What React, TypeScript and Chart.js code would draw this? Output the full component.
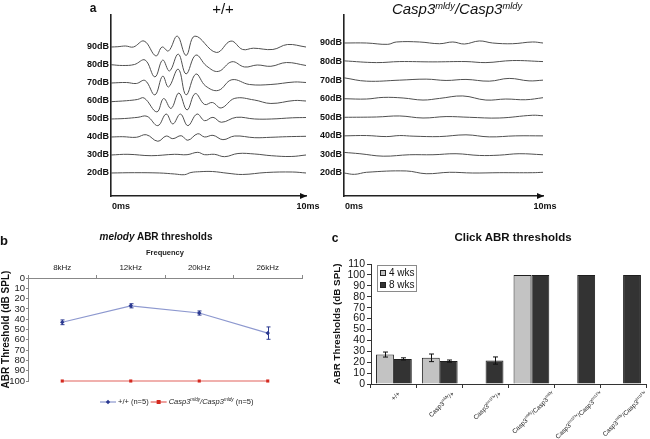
import React, { useEffect, useRef } from 'react';
import { Chart, registerables } from 'chart.js';

Chart.register(...registerables);

const FONT = '"Liberation Sans", Arial, Helvetica, sans-serif';

// ---------------- Panel a: ABR waveforms ----------------
const levelsDb = [90, 80, 70, 60, 50, 40, 30, 20];
const timeTicksMs = [0, 10];

// [time (ms), amplitude]
const wt90 = [[0, 0], [0.35, 0.3], [0.75, 1], [1.15, 0], [1.7, 6], [2.3, -9], [2.62, 0], [2.95, -4], [3.4, 11], [3.85, -8.5], [4.3, 11], [5.4, -5.5], [6.15, 6], [6.75, -2.5], [7.3, -1.2], [8.3, -2.5], [9.05, 2.5], [10, 0]];
const wt80 = [[0, 0.3], [0.6, -0.5], [1.2, 0.5], [1.75, 5], [2.25, -12], [2.65, 5], [3.0, -6], [3.45, 11], [3.85, -9], [4.35, 10], [4.9, -1], [5.5, -6.5], [6.2, 3.3], [6.85, -2], [7.5, 0], [8.2, -1.3], [9.0, 2.5], [10, -0.5]];
const wt70 = [[0, 0], [0.8, 0.5], [1.3, -0.5], [1.75, 2.5], [2.25, -12], [2.65, 7], [2.95, -4], [3.45, 14], [3.85, -12], [4.35, 9], [4.85, -3], [5.5, -7.5], [6.2, 3.3], [7.1, -1.5], [8.2, -1.5], [9.4, 1], [10, 0.5]];
const wt60 = [[0, -0.7], [0.8, 0.3], [1.35, 1.5], [1.7, 3], [2.35, -11], [2.7, 2.5], [3.08, -7.5], [3.48, 8], [3.9, -9], [4.32, 7.5], [4.8, -3.5], [5.2, -1.5], [5.65, -7], [6.35, 2.7], [7.35, 1], [8.2, -2.5], [9.4, 0.5], [10, 0]];
const wt50 = [[0, 0], [0.7, 0.5], [1.38, 1.7], [1.85, 2.7], [2.4, -6.7], [2.83, 5], [3.17, -5], [3.56, 5], [3.94, -6.7], [4.41, 5], [4.8, -1.7], [5.23, 1.7], [5.66, -3.3], [6.43, 1.7], [7.37, 0], [8.22, 0], [9.3, 1.2], [10, 1.5]];
const wt40 = [[0, 0], [0.6, 0.3], [1.3, -0.3], [1.81, 2.3], [2.4, -4.3], [2.83, 1], [3.17, -1.7], [3.6, 1.3], [3.94, -3.3], [4.45, 3.3], [4.8, 0], [5.23, 1.7], [5.74, -2.7], [6.34, 1], [7.37, -0.7], [8.2, -0.3], [9.0, 0.3], [10, 0.7]];
const wt30 = [[0, 0], [0.87, 0.7], [2.06, -0.7], [3.26, 0.7], [3.9, 0.3], [4.45, 2.7], [4.8, 0.3], [5.3, 0.7], [5.83, -1.7], [6.51, 1.5], [7.37, 1], [8.22, -0.7], [9.24, -1.5], [10, 0]];
const wt20 = [[0, 0], [1.2, 0.3], [2.5, 0], [3.26, -1], [3.77, -1.7], [4.1, 0.5], [4.55, 1.3], [5.2, 1.5], [6.0, -0.3], [6.75, -1.5], [7.96, 0.5], [9.3, 1], [10, 0]];

const mut90 = [[0, 0], [1.13, 0], [2.2, -1.3], [2.63, 1], [3.8, 1], [4.8, -0.7], [5.47, 1], [6.05, -1], [6.8, 2], [7.47, 0], [8.47, -0.7], [9.47, 1], [10, 0]];
const mut80 = [[0, 0.7], [1.63, -1], [2.8, 0], [4.47, -0.3], [6.13, 0], [7.13, -1], [8.47, 1], [10, 0]];
const mut70 = [[0, 2.3], [1.13, -1], [2.8, 0], [4.13, 1], [5.13, -0.3], [6.13, 0.7], [7.3, -1], [8.3, 1.7], [9.3, -0.7], [10, 0]];
const mut60 = [[0, 0], [1.13, -0.3], [1.97, 1.3], [2.97, 0.7], [3.97, -1.3], [4.8, 0.3], [5.97, 2.7], [7.13, -1.3], [8.13, -0.3], [9.13, -1], [10, 1]];
const mut50 = [[0, 0], [1.63, 0.3], [2.8, 1.3], [3.97, -0.7], [5.13, 0.7], [6.3, 0], [7.8, -0.7], [9.47, 2], [10, 1.5]];
const mut40 = [[0, 0], [1.13, 0.3], [2.13, -0.7], [2.8, 0.3], [3.47, -0.3], [4.8, -0.7], [6.13, 1], [7.3, -1], [8.63, 0], [10, 0]];
const mut30 = [[0, 2], [0.8, 0.7], [1.97, -1.7], [3.3, -0.3], [4.47, -0.3], [5.63, 0.7], [6.8, -1], [7.8, -0.7], [8.8, 0.7], [10, -0.3]];
const mut20 = [[0, 0], [0.53, -1.3], [1.13, 0.7], [3.13, 2], [4.13, -0.7], [5.3, 0.7], [6.47, 0], [7.8, 0.3], [9.47, 0.3], [10, 0.7]];

const wtTraces = [wt90, wt80, wt70, wt60, wt50, wt40, wt30, wt20];
const mutTraces = [mut90, mut80, mut70, mut60, mut50, mut40, mut30, mut20];
const GAIN = 0.55;

// ---------------- Panel b: frequency thresholds ----------------
const freqLabels = ['8kHz', '12kHz', '20kHz', '26kHz'];
const wtThreshold = [43, 27, 34, 53.5];
const wtThresholdErr = [2.3, 2, 2, 6];
const mutThreshold = [100, 100, 100, 100];
const seriesNamesB = ['+/+ (n=5)', 'Casp3^mldy/Casp3^mldy (n=5)'];

// ---------------- Panel c: click thresholds ----------------
const genotypes = ['+/+', 'Casp3^mldy/+', 'Casp3^tm1Flv/+', 'Casp3^mldy/Casp3^mldy', 'Casp3^tm1Flv/Casp3^tm1Flv', 'Casp3^mldy/Casp3^tm1Flv'];
const click4wks = [27, 24, null, 100, null, null];
const click4wksErr = [2.3, 3.5, null, 0, null, null];
const click8wks = [23, 21, 21.5, 100, 100, 100];
const click8wksErr = [1, 1, 3.3, 0, 0, 0];
const ageLabels = ['4 wks', '8 wks'];

// ---------------- helpers ----------------
type Seg = { t: string; sup: boolean };
function parseRich(s: string): Seg[] {
  const segs: Seg[] = [];
  const re = /\^([A-Za-z0-9]+)/g;
  let last = 0;
  let m: RegExpExecArray | null;
  while ((m = re.exec(s))) {
    if (m.index > last) segs.push({ t: s.slice(last, m.index), sup: false });
    segs.push({ t: m[1], sup: true });
    last = re.lastIndex;
  }
  if (last < s.length) segs.push({ t: s.slice(last), sup: false });
  return segs;
}
function segFont(size: number, sup: boolean, italic: boolean) {
  return `${italic ? 'italic ' : ''}${sup ? size * 0.62 : size}px ${FONT}`;
}
function measureRich(ctx: CanvasRenderingContext2D, segs: Seg[], size: number, italic = false) {
  let w = 0;
  segs.forEach((s) => {
    ctx.font = segFont(size, s.sup, italic && !/^\s*\(/.test(s.t));
    w += ctx.measureText(s.t).width;
  });
  return w;
}
function drawRich(ctx: CanvasRenderingContext2D, segs: Seg[], x: number, y: number, size: number, italic = false) {
  ctx.textAlign = 'left';
  ctx.textBaseline = 'middle';
  let cx = x;
  segs.forEach((s) => {
    ctx.font = segFont(size, s.sup, italic && !/^\s*\(/.test(s.t));
    ctx.fillText(s.t, cx, s.sup ? y - size * 0.33 : y);
    cx += ctx.measureText(s.t).width;
  });
}

const errorBarPlugin = {
  id: 'errorBars',
  afterDatasetsDraw(chart: any) {
    const ctx = chart.ctx;
    const y = chart.scales.y;
    chart.data.datasets.forEach((ds: any, di: number) => {
      if (!ds.errorBars) return;
      const meta = chart.getDatasetMeta(di);
      ctx.save();
      ctx.strokeStyle = ds.errorColor;
      ctx.lineWidth = 1;
      ds.data.forEach((v: number | null, i: number) => {
        const e = ds.errorBars[i];
        if (v == null || !e) return;
        const px = Math.round(meta.data[i].x) + 0.5;
        const y1 = y.getPixelForValue(v - e);
        const y2 = y.getPixelForValue(v + e);
        const c = ds.errorCap;
        ctx.beginPath();
        ctx.moveTo(px, y1);
        ctx.lineTo(px, y2);
        ctx.moveTo(px - c, y1);
        ctx.lineTo(px + c, y1);
        ctx.moveTo(px - c, y2);
        ctx.lineTo(px + c, y2);
        ctx.stroke();
      });
      ctx.restore();
    });
  },
};

const waveAxisPlugin = {
  id: 'waveAxis',
  afterDraw(chart: any) {
    const { ctx, chartArea } = chart;
    const x = chart.scales.x;
    const xr = x.getPixelForValue(timeTicksMs[timeTicksMs.length - 1]);
    const yb = chartArea.bottom;
    ctx.save();
    ctx.fillStyle = '#111';
    ctx.beginPath();
    ctx.moveTo(xr + 1, yb);
    ctx.lineTo(xr - 6, yb - 3);
    ctx.lineTo(xr - 6, yb + 3);
    ctx.closePath();
    ctx.fill();
    ctx.font = `bold 9px ${FONT}`;
    ctx.textBaseline = 'middle';
    timeTicksMs.forEach((t, i) => {
      ctx.textAlign = i === 0 ? 'left' : 'center';
      ctx.fillText(`${t}ms`, x.getPixelForValue(t) + (i === 0 ? 1 : 2), yb + 11);
    });
    ctx.restore();
  },
};

function makeWave(canvas: HTMLCanvasElement, traces: number[][][], yMin: number, yMax: number, axisW: number, padR: number) {
  return new Chart(canvas, {
    type: 'line',
    data: {
      datasets: levelsDb.map((lv, i) => ({
        label: `${lv}dB`,
        data: traces[i].map(([t, a]) => ({ x: t, y: lv + a * GAIN })),
        borderColor: '#505050',
        borderWidth: 1,
        pointRadius: 0,
        tension: 0.4,
        fill: false,
      })),
    },
    options: {
      animation: false,
      responsive: false,
      maintainAspectRatio: false,
      devicePixelRatio: 1,
      events: [],
      layout: { padding: { left: 0, top: 15, right: padR, bottom: 0 } },
      plugins: { legend: { display: false }, tooltip: { enabled: false } },
      scales: {
        x: {
          type: 'linear',
          min: 0,
          max: 10,
          grid: { display: false, drawTicks: false },
          border: { color: '#222', width: 1.6 },
          ticks: { display: false },
          afterFit: (s: any) => { s.height = 29; },
        },
        y: {
          min: yMin,
          max: yMax,
          grid: { display: false, drawTicks: false },
          border: { color: '#222', width: 1.6 },
          ticks: {
            padding: 2,
            color: '#111',
            font: { size: 9, weight: 'bold', family: FONT },
            callback: (v: any) => `${v}dB`,
            autoSkip: false,
          },
          afterBuildTicks: (s: any) => { s.ticks = levelsDb.map((v) => ({ value: v })); },
          afterFit: (s: any) => { s.width = axisW; },
        },
      },
    } as any,
    plugins: [waveAxisPlugin],
  });
}

const freqLegendPlugin = {
  id: 'freqLegend',
  afterDraw(chart: any) {
    const { ctx, chartArea } = chart;
    let x = chartArea.left + 72;
    const y = chartArea.bottom + 21;
    ctx.save();
    chart.data.datasets.forEach((ds: any) => {
      ctx.strokeStyle = ds.borderColor;
      ctx.lineWidth = 1.2;
      ctx.beginPath();
      ctx.moveTo(x, y);
      ctx.lineTo(x + 16, y);
      ctx.stroke();
      ctx.fillStyle = ds.pointBackgroundColor;
      const mx = x + 8;
      if (ds.pointStyle === 'rectRot') {
        ctx.beginPath();
        ctx.moveTo(mx, y - 2.2);
        ctx.lineTo(mx + 2.2, y);
        ctx.lineTo(mx, y + 2.2);
        ctx.lineTo(mx - 2.2, y);
        ctx.closePath();
        ctx.fill();
      } else {
        ctx.fillRect(mx - 2, y - 2, 4, 4);
      }
      x += 18;
      ctx.fillStyle = '#222';
      const segs = parseRich(ds.label);
      const italic = ds.label.indexOf('Casp3') >= 0;
      drawRich(ctx, segs, x, y, 7.5, italic);
      x += measureRich(ctx, segs, 7.5, italic) + 2;
    });
    ctx.restore();
  },
};

function makeFreqChart(canvas: HTMLCanvasElement) {
  return new Chart(canvas, {
    type: 'line',
    data: {
      labels: freqLabels,
      datasets: [
        {
          label: seriesNamesB[0],
          data: wtThreshold,
          borderColor: '#8d98cf',
          borderWidth: 1.2,
          pointStyle: 'rectRot',
          pointRadius: 2.2,
          pointBackgroundColor: '#2b3990',
          pointBorderColor: '#2b3990',
          pointBorderWidth: 0,
          tension: 0,
          clip: false,
          errorBars: wtThresholdErr,
          errorColor: '#2b3990',
          errorCap: 2,
        },
        {
          label: seriesNamesB[1],
          data: mutThreshold,
          borderColor: '#e2625c',
          borderWidth: 1.2,
          pointStyle: 'rect',
          pointRadius: 2.2,
          pointBackgroundColor: '#d42a20',
          pointBorderColor: '#d42a20',
          pointBorderWidth: 0,
          tension: 0,
          clip: false,
        },
      ],
    } as any,
    options: {
      animation: false,
      responsive: false,
      maintainAspectRatio: false,
      devicePixelRatio: 1,
      events: [],
      layout: { padding: { left: 0, top: 0, right: 8, bottom: 58 } },
      plugins: { legend: { display: false }, tooltip: { enabled: false } },
      scales: {
        x: {
          position: 'top',
          offset: true,
          grid: { offset: true, drawOnChartArea: false, tickLength: 3, color: '#888' },
          border: { color: '#888' },
          ticks: { padding: 2, color: '#222', font: { size: 8, family: FONT } },
          title: {
            display: true,
            text: 'Frequency',
            color: '#222',
            font: { size: 7.5, weight: 'bold', family: FONT },
            padding: { top: 20, bottom: 0 },
          },
          afterFit: (s: any) => { s.height = 50; },
        },
        y: {
          reverse: true,
          min: 0,
          max: 100,
          ticks: { stepSize: 10, autoSkip: false, padding: 1, color: '#222', font: { size: 9.5, family: FONT } },
          grid: { drawOnChartArea: false, tickLength: 2, color: '#888' },
          border: { color: '#888' },
          title: {
            display: true,
            text: 'ABR Threshold (dB SPL)',
            color: '#111',
            font: { size: 10, weight: 'bold', family: FONT },
            padding: { top: 0, bottom: 0 },
          },
          afterFit: (s: any) => { s.width = 28; },
        },
      },
    } as any,
    plugins: [errorBarPlugin, freqLegendPlugin],
  });
}

const clickDecorPlugin = {
  id: 'clickDecor',
  afterDraw(chart: any) {
    const { ctx, chartArea } = chart;
    const x = chart.scales.x;
    ctx.save();
    // legend box
    const bx = Math.round(chartArea.left) + 6;
    const by = Math.round(chartArea.top) + 1;
    ctx.fillStyle = '#fff';
    ctx.fillRect(bx, by, 39, 26);
    ctx.strokeStyle = '#8a8a8a';
    ctx.lineWidth = 1;
    ctx.strokeRect(bx + 0.5, by + 0.5, 39, 26);
    chart.data.datasets.forEach((ds: any, i: number) => {
      const cy = by + 8 + i * 12;
      ctx.fillStyle = ds.backgroundColor;
      ctx.fillRect(bx + 3, cy - 3, 6, 6);
      ctx.strokeStyle = '#222';
      ctx.strokeRect(bx + 3.5, cy - 2.5, 5, 5);
      ctx.fillStyle = '#111';
      ctx.font = `10px ${FONT}`;
      ctx.textAlign = 'left';
      ctx.textBaseline = 'middle';
      ctx.fillText(ds.label, bx + 12, cy + 0.5);
    });
    // rotated category labels
    ctx.fillStyle = '#222';
    (chart.data.labels as string[]).forEach((lab, i) => {
      const segs = parseRich(lab);
      const w = measureRich(ctx, segs, 6.5);
      const px = x.getPixelForValue(i) + w * 0.3536 + 2;
      const py = chartArea.bottom + 9;
      ctx.save();
      ctx.translate(px, py);
      ctx.rotate(-Math.PI / 4);
      drawRich(ctx, segs, -w, 0, 6.5);
      ctx.restore();
    });
    ctx.restore();
  },
};

function makeClickChart(canvas: HTMLCanvasElement) {
  return new Chart(canvas, {
    type: 'bar',
    data: {
      labels: genotypes,
      datasets: [
        {
          label: ageLabels[0],
          data: click4wks,
          backgroundColor: '#c3c3c3',
          borderColor: '#1e1e1e',
          borderWidth: 1,
          barPercentage: 1,
          categoryPercentage: 0.78,
          errorBars: click4wksErr,
          errorColor: '#111',
          errorCap: 2.5,
        },
        {
          label: ageLabels[1],
          data: click8wks,
          backgroundColor: '#333333',
          borderColor: '#1e1e1e',
          borderWidth: 1,
          barPercentage: 1,
          categoryPercentage: 0.78,
          errorBars: click8wksErr,
          errorColor: '#111',
          errorCap: 2.5,
        },
      ],
    } as any,
    options: {
      animation: false,
      responsive: false,
      maintainAspectRatio: false,
      devicePixelRatio: 1,
      events: [],
      layout: { padding: { left: 0, top: 36, right: 4, bottom: 0 } },
      plugins: { legend: { display: false }, tooltip: { enabled: false } },
      scales: {
        x: {
          grid: { offset: true, drawOnChartArea: false, tickLength: 4, color: '#333' },
          border: { color: '#333' },
          ticks: { display: false },
          afterFit: (s: any) => { s.height = 55; },
        },
        y: {
          min: 0,
          max: 110,
          ticks: { stepSize: 10, autoSkip: false, padding: 2, color: '#111', font: { size: 10.5, family: FONT } },
          grid: { drawOnChartArea: false, tickLength: 4, color: '#333' },
          border: { color: '#333' },
          title: {
            display: true,
            text: 'ABR Thresholds (dB SPL)',
            color: '#111',
            font: { size: 9.8, weight: 'bold', family: FONT },
            padding: { top: 11, bottom: 0 },
          },
          afterFit: (s: any) => { s.width = 51; },
        },
      },
    } as any,
    plugins: [errorBarPlugin, clickDecorPlugin],
  });
}

function useChart(factory: (c: HTMLCanvasElement) => Chart) {
  const ref = useRef<HTMLCanvasElement>(null);
  useEffect(() => {
    const ch = factory(ref.current as HTMLCanvasElement);
    return () => ch.destroy();
  }, []);
  return ref;
}

function Txt(props: { x: number; y: number; size: number; bold?: boolean; italic?: boolean; children: any }) {
  return (
    <div
      style={{
        position: 'absolute',
        left: props.x,
        top: props.y,
        transform: 'translate(-50%, -50%)',
        fontSize: props.size,
        fontWeight: props.bold ? 'bold' : 'normal',
        fontStyle: props.italic ? 'italic' : 'normal',
        whiteSpace: 'nowrap',
        lineHeight: 1,
        color: '#111',
      }}
    >
      {props.children}
    </div>
  );
}

const supStyle: any = { fontSize: '0.62em', verticalAlign: '0.5em', lineHeight: 0 };

export default function App() {
  const aL = useChart((c) => makeWave(c, wtTraces, 7.22, 107.78, 51, 14));
  const aR = useChart((c) => makeWave(c, mutTraces, 7.62, 105.08, 54, 17));
  const b = useChart(makeFreqChart);
  const cc = useChart(makeClickChart);
  return (
    <div
      style={{
        position: 'fixed',
        left: 0,
        top: 0,
        width: 650,
        height: 439,
        background: '#fff',
        overflow: 'hidden',
        fontFamily: FONT,
      }}
    >
      <canvas ref={aL} width={260} height={225} style={{ position: 'absolute', left: 60, top: 0 }} />
      <canvas ref={aR} width={270} height={225} style={{ position: 'absolute', left: 290, top: 0 }} />
      <canvas ref={b} width={310} height={211} style={{ position: 'absolute', left: 0, top: 228 }} />
      <canvas ref={cc} width={330} height={211} style={{ position: 'absolute', left: 320, top: 228 }} />
      <Txt x={93} y={8} size={12} bold>a</Txt>
      <Txt x={223} y={8} size={15}>+/+</Txt>
      <Txt x={457} y={8} size={15} italic>
        Casp3<span style={supStyle}>mldy</span>/Casp3<span style={supStyle}>mldy</span>
      </Txt>
      <Txt x={4} y={240} size={13} bold>b</Txt>
      <Txt x={156} y={237} size={10} bold>
        <i>melody</i> ABR thresholds
      </Txt>
      <Txt x={335} y={238} size={12} bold>c</Txt>
      <Txt x={513} y={238} size={11.5} bold>Click ABR thresholds</Txt>
    </div>
  );
}
